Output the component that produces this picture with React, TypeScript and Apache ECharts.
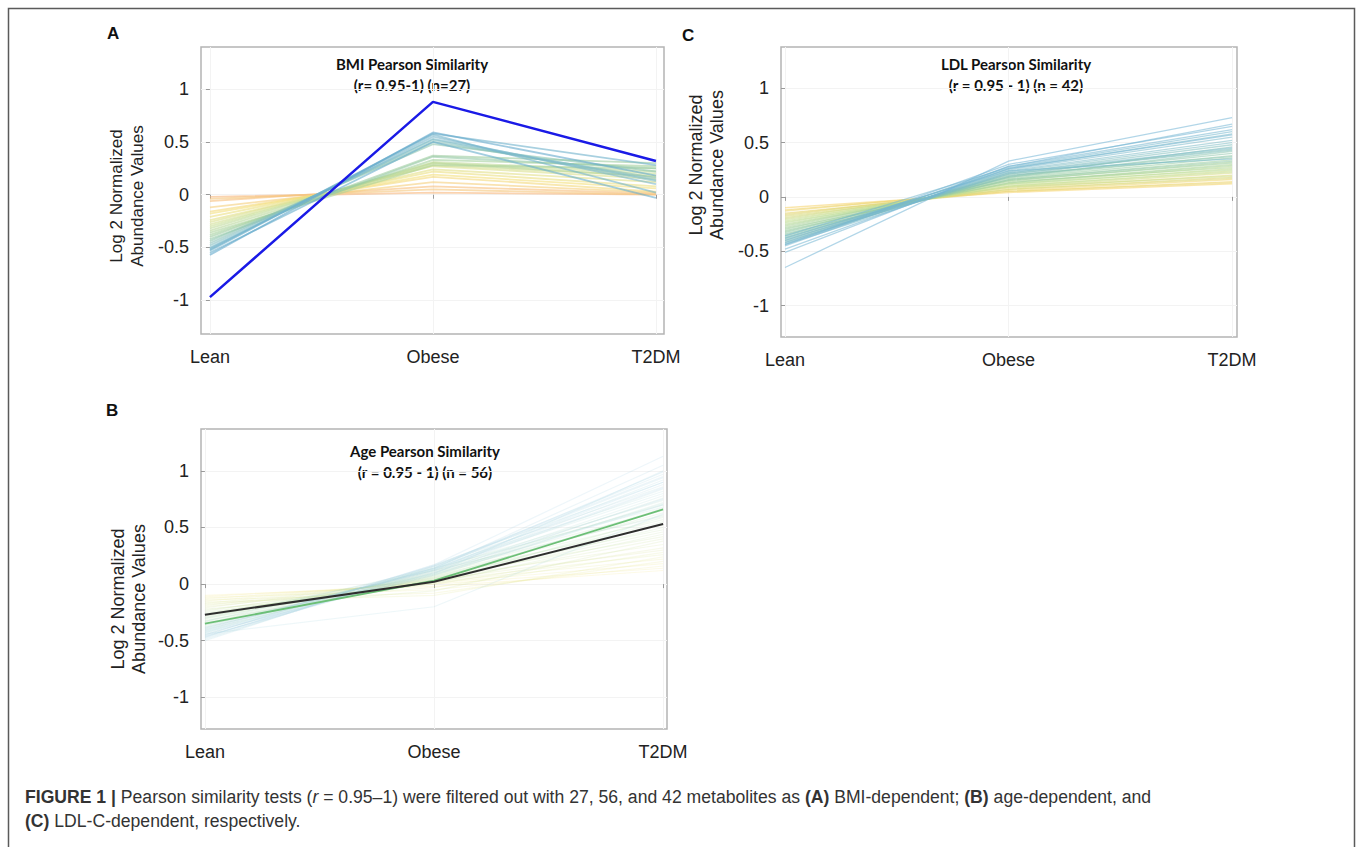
import React, { useEffect, useRef } from "react";
import * as echarts from "echarts";

const categories = ["Lean", "Obese", "T2DM"];
const yTicks = [-1, -0.5, 0, 0.5, 1];

// Panel A: BMI (26 metabolites + highlighted profile)
const bmiLines: number[][] = [
  [-0.02, 0.02, 0.0],
  [-0.06, 0.08, 0.01],
  [-0.04, 0.05, 0.0],
  [-0.12, 0.12, 0.02],
  [-0.16, 0.17, 0.03],
  [-0.18, 0.19, 0.06],
  [-0.21, 0.22, 0.08],
  [-0.24, 0.24, 0.12],
  [-0.26, 0.27, 0.15],
  [-0.28, 0.28, 0.18],
  [-0.3, 0.3, 0.2],
  [-0.32, 0.31, 0.22],
  [-0.34, 0.3, 0.17],
  [-0.36, 0.28, 0.25],
  [-0.38, 0.33, 0.27],
  [-0.4, 0.37, 0.3],
  [-0.42, 0.36, 0.25],
  [-0.44, 0.48, 0.22],
  [-0.46, 0.5, 0.16],
  [-0.48, 0.52, 0.13],
  [-0.5, 0.53, 0.14],
  [-0.51, 0.55, 0.1],
  [-0.52, 0.57, 0.02],
  [-0.53, 0.58, 0.28],
  [-0.55, 0.5, -0.03],
  [-0.57, 0.59, 0.18],
];
const bmiHighlight = [-0.97, 0.88, 0.32];

// Panel B: Age (54 metabolites + two highlighted profiles)
const ageLines: number[][] = [
  [-0.1, -0.02, 0.12],
  [-0.11, 0.0, 0.14],
  [-0.12, -0.05, 0.16],
  [-0.13, 0.01, 0.18],
  [-0.14, -0.08, 0.2],
  [-0.15, 0.02, 0.22],
  [-0.16, -0.1, 0.24],
  [-0.17, 0.03, 0.26],
  [-0.18, -0.03, 0.28],
  [-0.19, 0.04, 0.3],
  [-0.2, 0.0, 0.32],
  [-0.21, 0.05, 0.35],
  [-0.22, -0.06, 0.38],
  [-0.23, 0.02, 0.4],
  [-0.24, 0.06, 0.42],
  [-0.25, 0.01, 0.44],
  [-0.26, 0.04, 0.46],
  [-0.27, 0.07, 0.48],
  [-0.28, 0.03, 0.5],
  [-0.29, 0.08, 0.52],
  [-0.3, 0.05, 0.55],
  [-0.31, 0.09, 0.57],
  [-0.32, 0.02, 0.59],
  [-0.33, 0.1, 0.61],
  [-0.34, 0.06, 0.63],
  [-0.35, 0.11, 0.65],
  [-0.36, 0.04, 0.67],
  [-0.37, 0.12, 0.7],
  [-0.38, 0.07, 0.72],
  [-0.39, 0.13, 0.74],
  [-0.4, 0.08, 0.76],
  [-0.3, 0.12, 0.6],
  [-0.33, 0.14, 0.68],
  [-0.36, 0.09, 0.71],
  [-0.41, 0.1, 0.78],
  [-0.42, 0.14, 0.8],
  [-0.43, 0.15, 0.82],
  [-0.44, 0.11, 0.84],
  [-0.45, 0.16, 0.86],
  [-0.46, 0.12, 0.88],
  [-0.47, 0.17, 0.9],
  [-0.48, 0.13, 0.92],
  [-0.49, 0.15, 0.94],
  [-0.5, 0.16, 0.97],
  [-0.44, -0.2, 0.62],
  [-0.42, 0.09, 1.0],
  [-0.4, 0.14, 1.05],
  [-0.45, 0.17, 1.13],
  [-0.38, 0.12, 0.85],
  [-0.41, 0.16, 0.95],
  [-0.46, 0.1, 0.75],
  [-0.39, 0.13, 0.9],
  [-0.43, 0.08, 0.7],
  [-0.47, 0.14, 0.99],
];
const ageGreen = [-0.35, 0.03, 0.66];
const ageBlack = [-0.27, 0.02, 0.53];

// Panel C: LDL (42 metabolites)
const ldlLines: number[][] = [
  [-0.1, 0.04, 0.12],
  [-0.12, 0.05, 0.14],
  [-0.13, 0.06, 0.16],
  [-0.15, 0.05, 0.13],
  [-0.16, 0.07, 0.18],
  [-0.17, 0.08, 0.2],
  [-0.18, 0.07, 0.17],
  [-0.19, 0.09, 0.22],
  [-0.2, 0.1, 0.24],
  [-0.21, 0.09, 0.19],
  [-0.22, 0.11, 0.26],
  [-0.23, 0.1, 0.23],
  [-0.24, 0.12, 0.28],
  [-0.25, 0.12, 0.25],
  [-0.26, 0.13, 0.3],
  [-0.27, 0.14, 0.27],
  [-0.28, 0.15, 0.32],
  [-0.29, 0.13, 0.29],
  [-0.3, 0.16, 0.34],
  [-0.31, 0.15, 0.31],
  [-0.32, 0.17, 0.36],
  [-0.33, 0.18, 0.38],
  [-0.34, 0.16, 0.33],
  [-0.35, 0.19, 0.4],
  [-0.36, 0.18, 0.42],
  [-0.37, 0.2, 0.37],
  [-0.38, 0.21, 0.44],
  [-0.39, 0.19, 0.46],
  [-0.4, 0.22, 0.48],
  [-0.41, 0.21, 0.43],
  [-0.42, 0.23, 0.5],
  [-0.43, 0.24, 0.52],
  [-0.44, 0.22, 0.45],
  [-0.4, 0.25, 0.55],
  [-0.42, 0.26, 0.58],
  [-0.38, 0.24, 0.35],
  [-0.36, 0.27, 0.6],
  [-0.45, 0.28, 0.62],
  [-0.48, 0.26, 0.57],
  [-0.51, 0.28, 0.67],
  [-0.44, 0.3, 0.65],
  [-0.65, 0.33, 0.73],
];

function hexToRgb(h: string) {
  const n = parseInt(h.slice(1), 16);
  return [(n >> 16) & 255, (n >> 8) & 255, n & 255];
}
function paletteColor(stops: string[], t: number) {
  const s = stops.map(hexToRgb);
  const p = Math.min(Math.max(t, 0), 1) * (s.length - 1);
  const i = Math.min(Math.floor(p), s.length - 2);
  const f = p - i;
  const c = s[i].map((v, k) => Math.round(v + (s[i + 1][k] - v) * f));
  return `rgb(${c[0]},${c[1]},${c[2]})`;
}

const paletteA = ["#f6b67c", "#f4e07c", "#c9df98", "#9ccc9e", "#7fbccb", "#62a9cb"];
const paletteB = ["#f2e57c", "#b6dc9e", "#a6d6d8", "#9ccbe6"];
const paletteC = ["#f5d266", "#c6df92", "#95cba4", "#7dbcc6", "#72b4d6"];

export default function App() {
  const ref = useRef<HTMLDivElement>(null);
  useEffect(() => {
    if (!ref.current) return;
    const chart = echarts.init(ref.current, null, { renderer: "svg" });

    const grids = [
      { left: 201, top: 47, width: 463, height: 287 }, // A
      { left: 201, top: 429, width: 466, height: 300 }, // B
      { left: 781, top: 47, width: 456, height: 290 }, // C
    ];
    const xRanges = [
      [-0.04, 2.036],
      [-0.017, 2.017],
      [-0.018, 2.022],
    ];
    const yRanges = [
      [-1.32, 1.4],
      [-1.28, 1.37],
      [-1.29, 1.38],
    ];

    const xAxis = grids.map((_, i) => ({
      type: "value",
      gridIndex: i,
      min: xRanges[i][0],
      max: xRanges[i][1],
      axisLine: { show: false },
      axisTick: { show: true, customValues: [0, 1, 2], length: 4, lineStyle: { color: "#9a9a9a" } },
      axisLabel: {
        customValues: [0, 1, 2],
        formatter: (v: number) => categories[Math.round(v)],
        fontSize: 18,
        color: "#222",
        fontFamily: "Liberation Sans, Arial, sans-serif",
        margin: 14,
      },
      splitLine: { show: true, lineStyle: { color: "#f3f3f3", width: 1 } },
    }));
    const yAxis = grids.map((_, i) => ({
      type: "value",
      gridIndex: i,
      min: yRanges[i][0],
      max: yRanges[i][1],
      axisLine: { show: false },
      axisTick: { show: true, customValues: yTicks, length: 4, lineStyle: { color: "#9a9a9a" } },
      axisLabel: {
        customValues: yTicks,
        formatter: (v: number) => String(v),
        fontSize: 18,
        color: "#222",
        fontFamily: "Liberation Sans, Arial, sans-serif",
        margin: 12,
      },
      splitLine: { show: true, lineStyle: { color: "#f3f3f3", width: 1 } },
    }));

    const toData = (vals: number[]) => vals.map((v, k) => [k, v]);
    const series: any[] = [];
    bmiLines.forEach((vals, idx) => {
      series.push({
        type: "line",
        xAxisIndex: 0,
        yAxisIndex: 0,
        data: toData(vals),
        symbol: "none",
        silent: true,
        lineStyle: { color: paletteColor(paletteA, idx / (bmiLines.length - 1)), width: 1.8, opacity: 0.6 },
      });
    });
    series.push({
      type: "line", xAxisIndex: 0, yAxisIndex: 0, data: toData(bmiHighlight), symbol: "none", silent: true,
      lineStyle: { color: "#1a1ae6", width: 2.5 },
    });
    ageLines.forEach((vals, idx) => {
      series.push({
        type: "line",
        xAxisIndex: 1,
        yAxisIndex: 1,
        data: toData(vals),
        symbol: "none",
        silent: true,
        lineStyle: { color: paletteColor(paletteB, idx / (ageLines.length - 1)), width: 1.2, opacity: 0.18 },
      });
    });
    series.push({
      type: "line", xAxisIndex: 1, yAxisIndex: 1, data: toData(ageGreen), symbol: "none", silent: true,
      lineStyle: { color: "#6cbf76", width: 1.8 },
    });
    series.push({
      type: "line", xAxisIndex: 1, yAxisIndex: 1, data: toData(ageBlack), symbol: "none", silent: true,
      lineStyle: { color: "#2e2e2e", width: 2 },
    });
    ldlLines.forEach((vals, idx) => {
      series.push({
        type: "line",
        xAxisIndex: 2,
        yAxisIndex: 2,
        data: toData(vals),
        symbol: "none",
        silent: true,
        lineStyle: { color: paletteColor(paletteC, idx / (ldlLines.length - 1)), width: 1.3, opacity: 0.55 },
      });
    });

    const titleFont = "Lato, 'Open Sans', sans-serif";
    const yNameFont = "Liberation Sans, Arial, sans-serif";
    const plotTitle = (x: number, y: number, l1: string, l2: string) => ({
      type: "text",
      x,
      y,
      silent: true,
      style: {
        text: l1 + "\n" + l2,
        fontFamily: titleFont,
        fontWeight: "bold",
        fontSize: 15,
        lineHeight: 21,
        fill: "#111",
        align: "center",
        verticalAlign: "middle",
      },
    });
    const yName = (x: number, y: number, size: number) => ({
      type: "text",
      x,
      y,
      rotation: Math.PI / 2,
      silent: true,
      style: {
        text: "Log 2 Normalized\nAbundance Values",
        fontFamily: yNameFont,
        fontSize: size,
        lineHeight: 21,
        fill: "#222",
        align: "center",
        verticalAlign: "middle",
      },
    });
    const letter = (x: number, y: number, t: string) => ({
      type: "text",
      x,
      y,
      silent: true,
      style: {
        text: t,
        fontFamily: "Liberation Sans, Arial, sans-serif",
        fontWeight: "bold",
        fontSize: 17,
        fill: "#111",
        align: "left",
        verticalAlign: "middle",
      },
    });

    const captionFont = "Liberation Sans, Arial, sans-serif";
    const cs = 17.6;
    const caption = (x: number, y: number, text: string) => ({
      type: "text",
      x,
      y,
      silent: true,
      style: {
        text,
        fontFamily: captionFont,
        fontSize: cs,
        fill: "#333",
        align: "left",
        verticalAlign: "middle",
        rich: {
          b: { fontFamily: captionFont, fontSize: cs, fontWeight: "bold", fill: "#333" },
          i: { fontFamily: captionFont, fontSize: cs, fontStyle: "italic", fill: "#333" },
        },
      },
    });

    chart.setOption({
      animation: false,
      backgroundColor: "#ffffff",
      grid: grids.map((g) => ({
        ...g,
        show: true,
        borderColor: "#b4b4b4",
        borderWidth: 1.5,
        backgroundColor: "transparent",
        containLabel: false,
      })),
      xAxis,
      yAxis,
      series,
      graphic: [
        {
          type: "rect",
          silent: true,
          shape: { x: 8.5, y: 8.5, width: 1346, height: 860 },
          style: { fill: "none", stroke: "#5a5a5a", lineWidth: 1.5 },
        },
        letter(107, 33, "A"),
        letter(682, 35, "C"),
        letter(106, 410, "B"),
        plotTitle(412, 74, "BMI Pearson Similarity", "(r= 0.95-1) (n=27)"),
        plotTitle(1016, 74, "LDL Pearson Similarity", "(r = 0.95 - 1) (n = 42)"),
        plotTitle(425, 461, "Age Pearson Similarity", "(r = 0.95 - 1) (n = 56)"),
        yName(127, 196, 17),
        yName(706, 165, 18),
        yName(128, 599, 18),
        caption(25, 797,
          "{b|FIGURE 1 |} Pearson similarity tests ({i|r} = 0.95–1) were filtered out with 27, 56, and 42 metabolites as {b|(A)} BMI-dependent; {b|(B)} age-dependent, and"),
        caption(25, 821, "{b|(C)} LDL-C-dependent, respectively."),
      ],
    });
    return () => chart.dispose();
  }, []);
  return (
    <div
      ref={ref}
      style={{ position: "fixed", left: 0, top: 0, width: 1357, height: 847, background: "#fff" }}
    />
  );
}
